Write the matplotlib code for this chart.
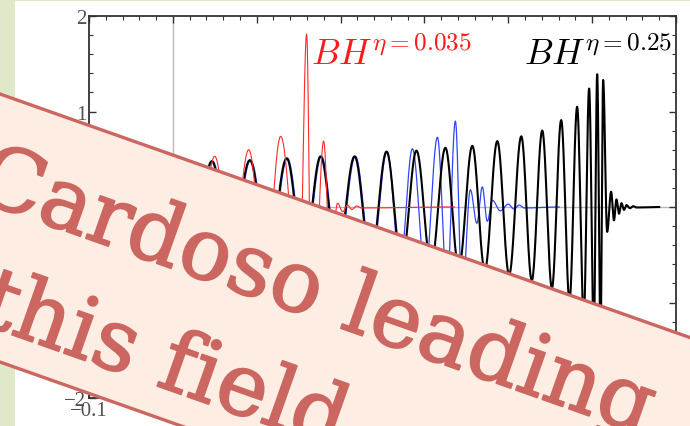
import numpy as np
import matplotlib.pyplot as plt
import matplotlib.patheffects as pe
from matplotlib.patches import Polygon, Rectangle
from matplotlib.ticker import MultipleLocator

plt.rcParams['mathtext.fontset'] = 'cm'

# extrema of each waveform (t, h)
black_peak_t = [0.0024, 0.0464, 0.0917, 0.1357, 0.1762, 0.2167, 0.2548, 0.2905, 0.3250,
                0.3571, 0.3869, 0.4155, 0.4405, 0.4631, 0.4821, 0.4964, 0.5060, 0.5131,
                0.5226, 0.5290, 0.5350, 0.5410, 0.5490]
black_peak_h = [0.47, 0.48, 0.49, 0.51, 0.53, 0.53, 0.58, 0.59, 0.62,
                0.64, 0.69, 0.74, 0.80, 0.91, 1.05, 1.24, 1.39, 1.33,
                0.16, 0.08, 0.04, 0.02, 0.008]
black_trough_t = [0.024, 0.069, 0.114, 0.156, 0.196, 0.236, 0.273, 0.308, 0.341,
                  0.372, 0.401, 0.428, 0.452, 0.473, 0.490, 0.502, 0.510, 0.5179,
                  0.5260, 0.5320, 0.5380, 0.5450, 0.5530]
black_trough_h = [-0.47, -0.48, -0.50, -0.52, -0.53, -0.55, -0.58, -0.60, -0.63,
                  -0.66, -0.71, -0.77, -0.85, -0.98, -1.15, -1.32, -1.38, -0.26,
                  -0.14, -0.07, -0.03, -0.012, -0.005]
black_end = 0.580

blue_peak_t = [0.0034, 0.0474, 0.0927, 0.1367, 0.1772, 0.2177, 0.2555, 0.2857, 0.3155,
               0.3369, 0.3548, 0.3690, 0.3810, 0.4000, 0.4130]
blue_peak_h = [0.47, 0.48, 0.49, 0.51, 0.53, 0.53, 0.58, 0.61, 0.73,
               0.90, 0.18, 0.21, 0.07, 0.03, 0.02]
blue_trough_t = [0.025, 0.070, 0.115, 0.157, 0.197, 0.237, 0.271, 0.301, 0.327,
                 0.345, 0.3625, 0.3750, 0.3905, 0.4065, 0.4190]
blue_trough_h = [-0.47, -0.48, -0.50, -0.52, -0.53, -0.56, -0.60, -0.68, -0.82,
                 -0.95, -0.17, -0.15, -0.04, -0.02, -0.01]
blue_end = 0.4607

red_peak_t = [0.006, 0.050, 0.0905, 0.1286, 0.1595, 0.1798, 0.1964, 0.2083, 0.2190]
red_peak_h = [0.50, 0.53, 0.60, 0.74, 1.81, 0.69, 0.04, 0.02, 0.01]
red_trough_t = [0.028, 0.070, 0.110, 0.1510, 0.1660, 0.188, 0.2025, 0.2135, 0.2250]
red_trough_h = [-0.50, -0.56, -0.66, -0.90, -1.70, -0.60, -0.05, -0.025, -0.01]
red_end = 0.3357


def wave(peak_t, peak_h, trough_t, trough_h, t_end, n=40):
    pts = sorted(zip(peak_t + trough_t, peak_h + trough_h))
    pts = [(0.0, 0.0)] + pts + [(t_end, 0.0)]
    ts, hs = [], []
    for (t0, h0), (t1, h1) in zip(pts[:-1], pts[1:]):
        s = np.linspace(0, 1, n, endpoint=False)
        ts.append(t0 + (t1 - t0) * s)
        hs.append(h0 + (h1 - h0) * (1 - np.cos(np.pi * s)) / 2)
    ts.append([t_end])
    hs.append([0.0])
    return np.concatenate(ts), np.concatenate(hs)


W, H = 690, 427
fig = plt.figure(figsize=(6.9, 4.27), dpi=100)
fig.patch.set_facecolor('#dfe8c8')
fig.add_artist(Rectangle((15 / W, 0), 1, 1 - 2 / H, transform=fig.transFigure,
                         facecolor='white', edgecolor='none', zorder=0))

ax = fig.add_axes([89 / W, 1 - 399 / H, (676 - 89) / W, (399 - 17) / H])
ax.axhline(0, color='#b8b8b8', lw=1, zorder=1)
ax.axvline(0, color='#b8b8b8', lw=1, zorder=1)

t, h = wave(blue_peak_t, blue_peak_h, blue_trough_t, blue_trough_h, blue_end)
ax.plot(t, h, color='#2f45ff', lw=0.9, zorder=2)
t, h = wave(black_peak_t, black_peak_h, black_trough_t, black_trough_h, black_end, n=60)
ax.plot(t, h, color='black', lw=1.5, zorder=3)
t, h = wave(red_peak_t, red_peak_h, red_trough_t, red_trough_h, red_end)
ax.plot(t, h, color='#ff2a2a', lw=0.8, zorder=4)

ax.text(0.165, 1.50, r'$BH^{\eta=0.035}$', color='#ff1a1a', fontsize=26, va='baseline')
ax.text(0.419, 1.50, r'$BH^{\eta=0.25}$', color='black', fontsize=26, va='baseline')

ax.set_xlim(-0.1, 0.6)
ax.set_ylim(-2, 2)
ax.xaxis.set_minor_locator(MultipleLocator(0.02))
ax.yaxis.set_minor_locator(MultipleLocator(0.2))
ax.set_xticks([-0.1, 0, 0.1, 0.2, 0.3, 0.4, 0.5, 0.6])
ax.set_xticklabels(['\u22120.1', '0', '0.1', '0.2', '0.3', '0.4', '0.5', '0.6'])
ax.set_yticks([-2, -1, 0, 1, 2])
ax.set_yticklabels(['\u22122', '\u22121', '0', '1', '2'])
ax.tick_params(which='both', direction='in', top=True, right=True, color='#333333',
               labelcolor='#505050', labelsize=15, pad=2)
ax.tick_params(which='major', length=5, width=1)
ax.tick_params(which='minor', length=3, width=0.8)
for lab in ax.get_xticklabels() + ax.get_yticklabels():
    lab.set_family('Liberation Serif')
for sp in ax.spines.values():
    sp.set_color('#333333')
    sp.set_linewidth(1.3)

# banner across the slide
slope = 0.353
xs = [-60, 760, 760, -60]
ys = [95 + slope * xs[0], 95 + slope * xs[1], 363 + slope * xs[2], 363 + slope * xs[3]]
fig.add_artist(Polygon([(x / W, 1 - y / H) for x, y in zip(xs, ys)], closed=True,
                       transform=fig.transFigure, facecolor='#fdede2',
                       edgecolor='#cc6660', lw=2.4, zorder=10))
ang = -np.degrees(np.arctan(slope))
thick = [pe.withStroke(linewidth=1.3, foreground='#cc6660')]
fig.text(-28 / W, 1 - 199 / H, 'Cardoso leading', color='#cc6660', fontsize=62,
         family='DejaVu Serif', rotation=ang, rotation_mode='anchor',
         ha='left', va='baseline', zorder=11, path_effects=thick)
fig.text(-24 / W, 1 - 323 / H, 'this field', color='#cc6660', fontsize=62,
         family='DejaVu Serif', rotation=ang, rotation_mode='anchor',
         ha='left', va='baseline', zorder=11, path_effects=thick)

fig.savefig('out.png', dpi=100)
